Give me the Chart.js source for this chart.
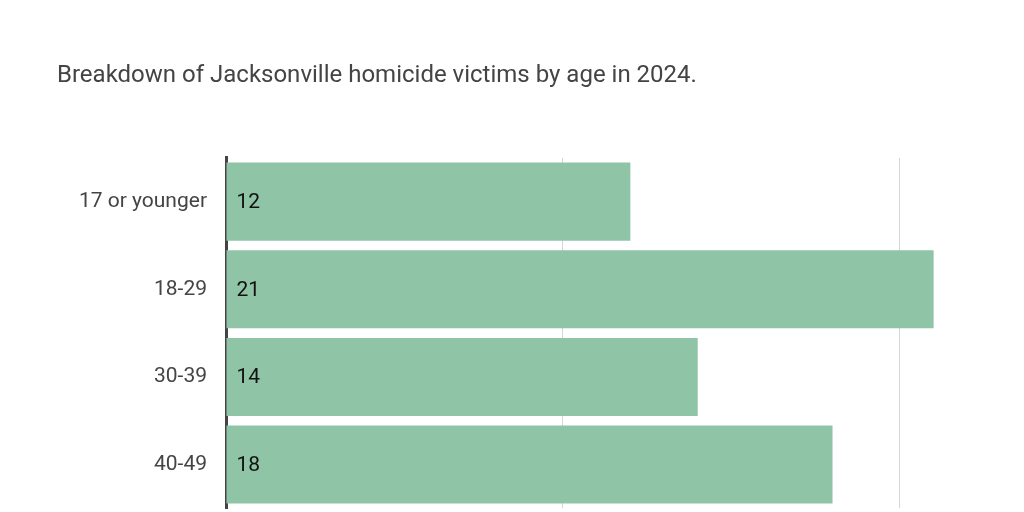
<!DOCTYPE html>
<html>
<head>
<meta charset="utf-8">
<script src="https://cdn.jsdelivr.net/npm/chart.js@4"></script>
<style>
  body { margin: 0; background: #fff; overflow: hidden; }
  #clip { width: 1024px; height: 512px; overflow: hidden; }
  #wrap { width: 1024px; height: 540px; position: relative; }
</style>
</head>
<body>
<div id="clip"><div id="wrap"><canvas id="chart"></canvas></div></div>
<script>
// --- data ---
const categories = ['17 or younger', '18-29', '30-39', '40-49'];
const victims = [12, 21, 14, 18];
const titleText = 'Breakdown of Jacksonville homicide victims by age in 2024.';

// value labels drawn at the left edge inside each bar
const barLabels = {
  id: 'barLabels',
  afterDatasetsDraw(chart) {
    const ctx = chart.ctx;
    const meta = chart.getDatasetMeta(0);
    ctx.save();
    ctx.font = '21px Roboto';
    ctx.fillStyle = '#111';
    ctx.textBaseline = 'middle';
    meta.data.forEach((bar, i) => {
      ctx.fillText(victims[i], bar.base + 10, bar.y + 1);
    });
    ctx.restore();
  }
};

new Chart(document.getElementById('chart'), {
  type: 'bar',
  data: {
    labels: categories,
    datasets: [{
      data: victims,
      backgroundColor: '#8fc4a7',
      barPercentage: 0.89,
      categoryPercentage: 1
    }]
  },
  options: {
    indexAxis: 'y',
    responsive: true,
    maintainAspectRatio: false,
    animation: false,
    layout: { padding: { top: 22, left: 57, right: 23, bottom: 4 } },
    plugins: {
      legend: { display: false },
      tooltip: { enabled: false },
      title: {
        display: true,
        text: titleText,
        align: 'start',
        color: '#444',
        font: { family: 'Roboto', size: 24, weight: 'normal' },
        padding: { top: 40, bottom: 67 }
      }
    },
    scales: {
      x: {
        min: 0, max: 23,
        ticks: { display: false, stepSize: 10 },
        afterBuildTicks: s => { s.ticks = s.ticks.filter(t => t.value % 10 === 0); },
        grid: { color: '#d6d6d6', lineWidth: 1, drawTicks: false },
        border: { display: false }
      },
      y: {
        afterFit: s => { s.width = 169; },
        ticks: { color: '#444', font: { family: 'Roboto', size: 21 }, padding: 19 },
        grid: { display: false, drawTicks: false },
        border: { color: '#444', width: 3 }
      }
    }
  },
  plugins: [barLabels]
});
</script>
</body>
</html>
